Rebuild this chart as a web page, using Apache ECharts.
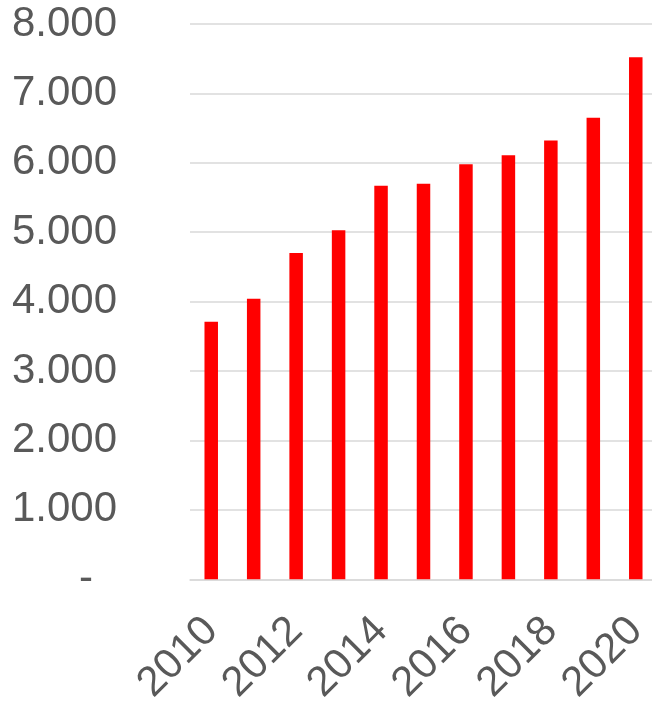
<!DOCTYPE html>
<html>
<head>
<meta charset="utf-8">
<script src="https://cdn.jsdelivr.net/npm/echarts@6/dist/echarts.min.js"></script>
<style>html,body{margin:0;padding:0;background:#fff;overflow:hidden}#c{width:652px;height:702px}</style>
</head>
<body>
<div id="c"></div>
<script>
const years = ['2010','2011','2012','2013','2014','2015','2016','2017','2018','2019','2020'];
const values = [3710, 4040, 4700, 5030, 5670, 5700, 5980, 6110, 6320, 6650, 7520];
const yTicks = [0, 1000, 2000, 3000, 4000, 5000, 6000, 7000, 8000];

const chart = echarts.init(document.getElementById('c'), null, {renderer: 'canvas'});
function fmt(v) {
  if (v === 0) return '{z|-}';
  return '{n|' + (v / 1000).toFixed(0) + '.000}';
}
chart.setOption({
  animation: false,
  grid: {left: 190, top: 24, width: 467, bottom: 122.7, containLabel: false, outerBoundsMode: 'none'},
  xAxis: {
    type: 'category',
    data: years,
    axisTick: {show: false},
    axisLine: {lineStyle: {color: '#d9d9d9', width: 1.5}},
    axisLabel: {
      interval: 1,
      rotate: 45,
      margin: 45,
      color: '#595959',
      fontFamily: 'Liberation Sans, Arial, sans-serif',
      fontSize: 42
    }
  },
  yAxis: {
    type: 'value',
    min: yTicks[0],
    max: yTicks[yTicks.length - 1],
    interval: 1000,
    axisLine: {show: false},
    axisTick: {show: false},
    splitLine: {lineStyle: {color: '#d9d9d9', width: 1.5}},
    axisLabel: {
      margin: 73,
      align: 'right',
      formatter: fmt,
      rich: {
        n: {color: '#595959', fontFamily: 'Liberation Sans, Arial, sans-serif', fontSize: 42},
        z: {color: '#595959', fontFamily: 'Liberation Sans, Arial, sans-serif', fontSize: 42, padding: [0, 24, 0, 0]}
      }
    }
  },
  series: [{
    type: 'bar',
    data: values,
    barWidth: 13.5,
    itemStyle: {color: '#ff0000'}
  }]
});
</script>
</body>
</html>
